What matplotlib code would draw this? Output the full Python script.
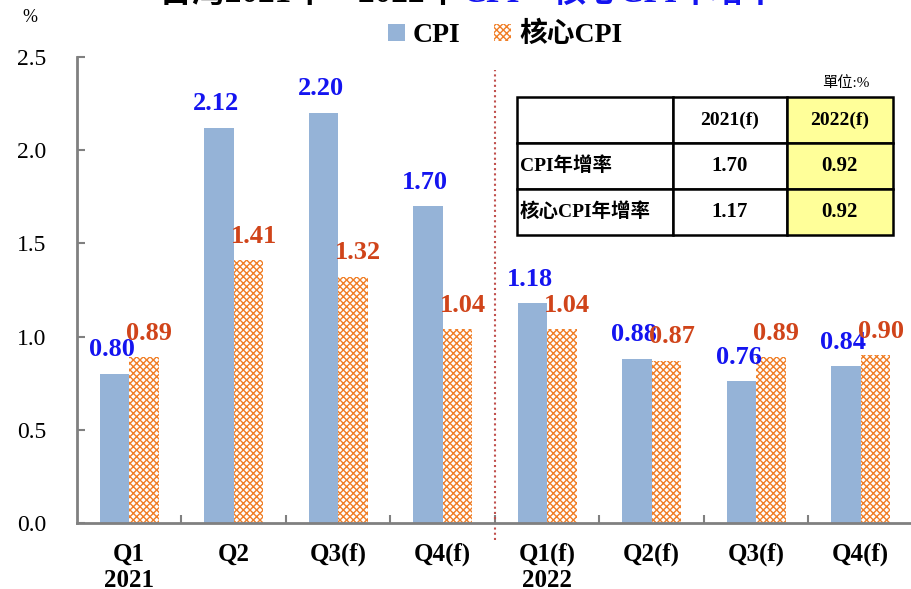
import numpy as np
import matplotlib
matplotlib.use('Agg')
import matplotlib.pyplot as plt
from matplotlib.patches import Patch

plt.rcParams['font.family'] = ['Liberation Serif', 'Noto Sans CJK TC']
plt.rcParams['hatch.linewidth'] = 1.0

quarters = ['Q1\n2021', 'Q2', 'Q3(f)', 'Q4(f)', 'Q1(f)\n2022', 'Q2(f)', 'Q3(f)', 'Q4(f)']
cpi = [0.80, 2.12, 2.20, 1.70, 1.18, 0.88, 0.76, 0.84]
core_cpi = [0.89, 1.41, 1.32, 1.04, 1.04, 0.87, 0.89, 0.90]

table_cols = ['', '2021(f)', '2022(f)']
table_rows = ['CPI年增率', '核心CPI年增率']
table_vals = [['1.70', '0.92'], ['1.17', '0.92']]

cpi_color = '#95B3D7'
core_color = '#F07E26'
grey = '#808080'

fig = plt.figure(figsize=(9.12, 5.89), dpi=100)
ax = fig.add_axes([77 / 912, 1 - 523 / 589, 836 / 912, 466 / 589])

x = np.arange(len(quarters))
w = 0.28
b1 = ax.bar(x - w / 2, cpi, w, color=cpi_color, linewidth=0)
b2 = ax.bar(x + w / 2, core_cpi, w, facecolor='white', edgecolor=core_color,
            hatch='xxxxx', linewidth=0)

for xi, v in zip(x, cpi):
    ax.annotate(f'{v:.2f}', (xi - w / 2, v), xytext=(-2, 9), textcoords='offset points',
                ha='center', va='bottom', fontsize=19, fontweight='bold', color='#1414F0')
for xi, v in zip(x, core_cpi):
    ax.annotate(f'{v:.2f}', (xi + w / 2, v), xytext=(4, 9), textcoords='offset points',
                ha='center', va='bottom', fontsize=19, fontweight='bold', color='#D0441A')

# divider between 2021 and 2022
ax.plot([3.5, 3.5], [-0.09, 2.43], color='#C0504D', linestyle=(0, (1, 1.5)),
        linewidth=1.5, clip_on=False)

ax.set_xlim(-0.5, 7.5)
ax.set_ylim(0, 2.5)
ax.set_yticks([0, 0.5, 1.0, 1.5, 2.0, 2.5])
ax.set_yticklabels(['0.0', '0.5', '1.0', '1.5', '2.0', '2.5'], fontsize=17)
ax.set_xticks(x)
ax.set_xticklabels(quarters, fontsize=18, fontweight='bold', linespacing=1.2)
ax.set_xticks(np.arange(0.5, 7.5, 1), minor=True)
ax.tick_params(axis='x', which='major', length=0, pad=14)
ax.tick_params(axis='x', which='minor', direction='in', length=6, color=grey, width=1.5)
ax.tick_params(axis='y', direction='in', length=6, color=grey, width=1.5, pad=43)
for lab in ax.get_yticklabels():
    lab.set_horizontalalignment('left')
for s in ['top', 'right']:
    ax.spines[s].set_visible(False)
for s in ['left', 'bottom']:
    ax.spines[s].set_color(grey)
    ax.spines[s].set_linewidth(2)

# summary table
tbl = ax.table(cellText=[[r] + v for r, v in zip(table_rows, table_vals)],
               colLabels=table_cols, colWidths=[0.415, 0.303, 0.282],
               bbox=[0.526, 0.618, 0.45, 0.296], cellLoc='center')
tbl.auto_set_font_size(False)
for (r, c), cell in tbl.get_celld().items():
    cell.set_linewidth(1.8)
    cell.set_edgecolor('black')
    cell.get_text().set_fontweight('bold')
    cell.get_text().set_fontsize(15 if (r > 0 and c > 0) else 14)
    if c == 2:
        cell.set_facecolor('#FFFF99')
    if c == 0:
        cell.get_text().set_horizontalalignment('left')
        cell.PAD = 0.02
ax.text(0.92, 0.945, '單位:%', transform=ax.transAxes, ha='center', va='center', fontsize=11)

fig.text(30 / 912, 1 - 18 / 589, '%', ha='center', va='center', fontsize=13)

# title (top half cut off in the source image)
fig.text(458 / 912, 1 - 2 / 589, '台灣2021年、2022年', ha='right', va='baseline',
         fontsize=24, fontweight='bold', color='black')
fig.text(462 / 912, 1 - 2 / 589, 'CPI、核心CPI年增率', ha='left', va='baseline',
         fontsize=24, fontweight='bold', color='#1414F0')

handles = [Patch(facecolor=cpi_color, linewidth=0),
           Patch(facecolor='white', edgecolor=core_color, hatch='xxxxx', linewidth=0)]
fig.legend(handles, ['CPI', '核心CPI'], loc='center', bbox_to_anchor=(505 / 912, 1 - 35 / 589),
           ncol=2, frameon=False, handlelength=0.6, handleheight=0.6, handletextpad=0.3,
           columnspacing=1.2, prop={'size': 20, 'weight': 'bold'})

fig.savefig('out.png', dpi=100)
